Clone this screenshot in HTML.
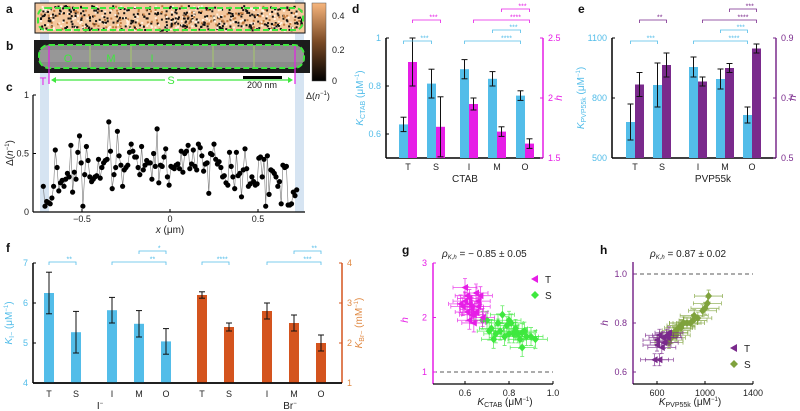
<!DOCTYPE html>
<html><head><meta charset="utf-8"><style>
html,body{margin:0;padding:0;background:#fff;}
svg{display:block;font-family:"Liberation Sans",sans-serif;}
</style></head><body>
<svg id="fig" width="800" height="411" viewBox="0 0 800 411" xmlns="http://www.w3.org/2000/svg">
<defs>
<linearGradient id="cbar" x1="0" y1="1" x2="0" y2="0"><stop offset="0" stop-color="#000"/><stop offset="0.5" stop-color="#7a4a25"/><stop offset="1" stop-color="#f7b57c"/></linearGradient>
</defs>
</svg>
<script>
// ---- panel c data ----
const cVals=[0.22,0.05,0.09,0.08,0.07,0.12,0.22,0.53,0.38,0.18,0.25,0.27,0.22,0.28,0.33,0.30,0.57,0.17,0.34,0.28,0.51,0.65,0.42,0.05,0.32,0.56,0.44,0.30,0.26,0.28,0.30,0.31,0.45,0.29,0.38,0.42,0.44,0.45,0.77,0.52,0.20,0.32,0.38,0.69,0.48,0.40,0.22,0.36,0.38,0.40,0.51,0.58,0.52,0.47,0.47,0.38,0.32,0.56,0.36,0.40,0.44,0.42,0.42,0.28,0.50,0.39,0.71,0.25,0.40,0.39,0.47,0.54,0.30,0.23,0.39,0.38,0.37,0.40,0.41,0.37,0.52,0.34,0.50,0.52,0.57,0.37,0.41,0.53,0.39,0.36,0.58,0.55,0.48,0.35,0.41,0.42,0.16,0.50,0.49,0.58,0.45,0.41,0.43,0.38,0.30,0.31,0.25,0.23,0.51,0.39,0.30,0.20,0.51,0.31,0.33,0.13,0.36,0.54,0.37,0.22,0.24,0.30,0.26,0.23,0.24,0.46,0.47,0.30,0.45,0.05,0.48,0.15,0.36,0.35,0.33,0.30,0.22,0.26,0.07,0.40,0.38,0.39,0.06,0.06,0.07,0.17,0.14,0.19];
const cXStart=-0.72, cXEnd=0.72;
const cXTicks=[-0.5,0,0.5];
const cYTicks=[0,0.5,1];
// ---- panel d ----
const dCats=["T","S","I","M","O"];
const dK=[0.64,0.81,0.87,0.83,0.76];
const dKerr=[0.03,0.06,0.04,0.03,0.02];
const dH=[2.3,1.76,1.95,1.72,1.62];
const dHerr=[0.2,0.25,0.05,0.04,0.04];
const dLTicks=[0.6,0.8,1];
const dRTicks=[1.5,2,2.5];
// ---- panel e ----
const eCats=["T","S","I","M","O"];
const eK=[680,865,955,895,715];
const eKerr=[90,110,50,50,40];
const eH=[0.745,0.81,0.755,0.80,0.865];
const eHerr=[0.04,0.04,0.015,0.015,0.015];
const eLTicks=[500,800,1100];
const eRTicks=[0.5,0.7,0.9];
// ---- panel f ----
const fCats=["T","S","I","M","O","T","S","I","M","O"];
const fI=[6.25,5.27,5.82,5.48,5.04];
const fIerr=[0.52,0.52,0.32,0.33,0.32];
const fBr=[3.2,2.4,2.8,2.5,2.0];
const fBrerr=[0.08,0.1,0.2,0.2,0.2];
const fLTicks=[4,5,6,7];
const fRTicks=[1,2,3,4];
// ---- panel g ----
const gTK=[0.60,0.58,0.62,0.63,0.65,0.61,0.64,0.66,0.59,0.62,0.67,0.63,0.60,0.65,0.68,0.62,0.64,0.61,0.66,0.63];
const gTH=[2.55,2.25,2.35,2.20,2.45,2.10,2.05,2.30,2.20,1.95,2.40,2.15,2.30,2.10,2.00,2.25,1.90,2.40,2.20,2.05];
const gSK=[0.70,0.72,0.75,0.77,0.74,0.80,0.81,0.78,0.83,0.85,0.82,0.87,0.88,0.92,0.86,0.84,0.79,0.73,0.76,0.90,0.83,0.71,0.68,0.80,0.86];
const gSH=[1.95,1.80,1.90,2.05,1.70,1.95,1.90,1.65,1.75,1.60,1.70,1.75,1.65,1.60,1.45,1.70,1.85,1.60,1.75,1.65,1.80,1.75,1.95,1.70,1.72];
const gXTicks=[0.6,0.8,1.0];
const gYTicks=[1,2,3];
// ---- panel h ----
const hTK=[580,620,640,600,650,680,700,620,660,600,690];
const hTH=[0.65,0.65,0.70,0.71,0.74,0.75,0.76,0.75,0.72,0.73,0.74];
const hSK=[700,720,740,760,780,800,820,850,900,940,980,1000,1020,1030,700,760,820,880,740,800,910];
const hSH=[0.72,0.74,0.76,0.77,0.78,0.78,0.80,0.80,0.81,0.82,0.85,0.86,0.88,0.91,0.73,0.75,0.80,0.80,0.76,0.79,0.83];
const hXTicks=[600,1000,1400];
const hYTicks=[0.6,0.8,1.0];

const NS="http://www.w3.org/2000/svg";
const svg=document.getElementById('fig');
function mk(tag,a,name,parent){
  const el=document.createElementNS(NS,tag);
  for(const k in a) el.setAttribute(k,a[k]);
  
  
  (parent||svg).appendChild(el);
  return el;
}
function tx(x,y,s,a,name){
  const o=Object.assign({x:x,y:y,'font-size':9,fill:'#222'},a||{});
  const el=mk('text',o,name);
  el.innerHTML=s;
  return el;
}
function lin(a,b,c,d){return v=>c+(v-a)*(d-c)/(b-a);}

const CYAN="#53bde9",MAG="#e61ee6",PUR="#7a2a8c",ORG="#d4541e",ORGT="#e08a44",GRN="#3ee83e",OLV="#7fa23c";

// panel letters
[["a",6,13],["b",6,50],["c",6,91],["d",352,13],["e",578,13],["f",6,252],["g",402,254],["h",600,254]].forEach(p=>{
  tx(p[1],p[2],p[0],{'font-size':12,'font-weight':'bold',fill:'#111'},'panel-label-'+p[0]);
});

// blue bands
mk('rect',{x:40,y:0,width:9,height:212,fill:'#d6e4f2'},'tip-band-left');
mk('rect',{x:295,y:0,width:9,height:212,fill:'#d6e4f2'},'tip-band-right');

// panel a image
mk('rect',{x:35,y:3,width:270,height:30,fill:'#f4c79d',stroke:'#111','stroke-width':1},'panel-a-image');
let seed=7;function rnd(){seed=(seed*16807)%2147483647;return seed/2147483647;}
for(let i=0;i<700;i++){
  const x=40+rnd()*262,y=5+rnd()*25;
  const c=rnd()<0.5?'#111':(rnd()<0.5?'#c07a3f':'#fff1e0');
  mk('rect',{x:x.toFixed(1),y:y.toFixed(1),width:2,height:2,fill:c},'noise-pixel');
}
mk('rect',{x:38,y:8,width:265,height:22,rx:8,fill:'none',stroke:'#3ee83e','stroke-width':2,'stroke-dasharray':'6 3'},'rod-outline-a');

// panel b
mk('rect',{x:34,y:40,width:276,height:33,fill:'#1c1c1c'},'panel-b-image');
mk('rect',{x:39,y:45,width:265,height:23,rx:10,fill:'#8a8a8a'},'rod-body');
mk('rect',{x:39,y:50,width:265,height:12,fill:'#a0a0a0',opacity:0.6},'rod-highlight');
mk('rect',{x:39,y:45,width:265,height:23,rx:10,fill:'none',stroke:'#3ee83e','stroke-width':2,'stroke-dasharray':'6 3'},'rod-outline-b');
[90,131,213,254].forEach(x=>mk('line',{x1:x,y1:46,x2:x,y2:67,stroke:'#a6c96a','stroke-width':1},'segment-divider'));
[49,295].forEach(x=>mk('line',{x1:x,y1:46,x2:x,y2:84,stroke:MAG,'stroke-width':1.2},'tip-boundary'));
[["O",68],["M",111],["I",152]].forEach(p=>tx(p[1],62,p[0],{'font-size':11,fill:'#3ee83e','text-anchor':'middle'},'segment-label-'+p[0]));
tx(43,85,"T",{'font-size':11,fill:MAG,'text-anchor':'middle'},'tip-label');
mk('line',{x1:53,y1:80,x2:291,y2:80,stroke:'#3ee83e','stroke-width':1.2},'side-arrow');
mk('path',{d:'M51,80 l5,-3 v6z M293,80 l-5,-3 v6z',fill:'#3ee83e'},'side-arrow-heads');
mk('rect',{x:165,y:74,width:12,height:11,fill:'#fff'},'side-label-bg');
tx(171,84,"S",{'font-size':11,fill:'#3ee83e','text-anchor':'middle'},'side-label');
mk('rect',{x:243,y:76,width:39,height:3,fill:'#000'},'scale-bar');
tx(262,88,"200 nm",{'font-size':9,'text-anchor':'middle'},'scale-bar-label');

// colorbar
mk('rect',{x:312,y:3,width:14,height:78,fill:'url(#cbar)',stroke:'#555','stroke-width':0.5},'colorbar');
[[0.4,19],[0.2,53],[0,84]].forEach(p=>tx(332,p[1],String(p[0]),{'font-size':9},'colorbar-tick'));
tx(306,99,"Δ(<tspan font-style='italic'>n</tspan><tspan font-size='6' dy='-4'>−1</tspan><tspan dy='4'>)</tspan>",{'font-size':9},'colorbar-title');

// ---- panel c ----
(function(){
  const X=lin(-0.5,0.5,82,258), Y=lin(0,1,212,95);
  mk('line',{x1:33,y1:95,x2:33,y2:212,stroke:'#000','stroke-width':1.2},'c-y-axis');
  mk('line',{x1:33,y1:212,x2:305,y2:212,stroke:'#000','stroke-width':1.2},'c-x-axis');
  cYTicks.forEach(v=>{mk('line',{x1:33,y1:Y(v),x2:36,y2:Y(v),stroke:'#000'},'c-y-tick');tx(29,Y(v)+3,String(v),{'text-anchor':'end'},'c-y-tick-label');});
  cXTicks.forEach(v=>{mk('line',{x1:X(v),y1:212,x2:X(v),y2:209,stroke:'#000'},'c-x-tick');tx(X(v),222,v<0?'−'+(-v):String(v),{'text-anchor':'middle'},'c-x-tick-label');});
  tx(170,233,"<tspan font-style='italic'>x</tspan> (μm)",{'font-size':10,'text-anchor':'middle'},'c-x-axis-title');
  const yl=tx(0,0,"Δ(<tspan font-style='italic'>n</tspan><tspan font-size='6' dy='-4'>−1</tspan><tspan dy='4'>)</tspan>",{'font-size':10,'text-anchor':'middle',transform:'translate(13,153) rotate(-90)'},'c-y-axis-title');
  const n=cVals.length; const pts=cVals.map((v,i)=>[X(cXStart+i*(cXEnd-cXStart)/(n-1)),Y(v)]);
  mk('polyline',{points:pts.map(p=>p[0].toFixed(1)+','+p[1].toFixed(1)).join(' '),fill:'none',stroke:'#777','stroke-width':0.6},'c-line');
  pts.forEach(p=>mk('circle',{cx:p[0].toFixed(1),cy:p[1].toFixed(1),r:2.6,fill:'#000'},'c-point'));
})();

function errbar(x,y1,y2,name){
  mk('line',{x1:x,y1:y1,x2:x,y2:y2,stroke:'#111','stroke-width':1},name);
  mk('line',{x1:x-3,y1:y1,x2:x+3,y2:y1,stroke:'#111','stroke-width':1},name+'-cap');
  mk('line',{x1:x-3,y1:y2,x2:x+3,y2:y2,stroke:'#111','stroke-width':1},name+'-cap');
}
function bracket(x1,x2,y,stars,col){
  mk('path',{d:`M${x1},${y+3}V${y}H${x2}V${y+3}`,fill:'none',stroke:col,'stroke-width':0.8},'significance-bracket');
  tx((x1+x2)/2+(x2-x1)*0.25,y-0.5,stars,{'font-size':7,fill:col,'text-anchor':'middle'},'significance-stars');
}
function dualPanel(o){
  const YL=lin(o.lmin,o.lmax,o.bot,o.top), YR=lin(o.rmin,o.rmax,o.bot,o.top);
  mk('line',{x1:o.L,y1:o.top,x2:o.L,y2:o.bot,stroke:'#000','stroke-width':1.5},o.p+'-left-axis');
  mk('line',{x1:o.R,y1:o.top,x2:o.R,y2:o.bot,stroke:o.rc,'stroke-width':1.5},o.p+'-right-axis');
  mk('line',{x1:o.L,y1:o.bot,x2:o.R,y2:o.bot,stroke:'#000','stroke-width':1.5},o.p+'-x-axis');
  o.lt.forEach(v=>{mk('line',{x1:o.L,y1:YL(v),x2:o.L+3,y2:YL(v),stroke:'#000'},o.p+'-left-tick');tx(o.L-5,YL(v)+3,String(v),{'text-anchor':'end',fill:o.lc},o.p+'-left-tick-label');});
  o.rt.forEach(v=>{mk('line',{x1:o.R,y1:YR(v),x2:o.R-3,y2:YR(v),stroke:o.rc},o.p+'-right-tick');tx(o.R+5,YR(v)+3,String(v),{fill:o.rtc||o.rc},o.p+'-right-tick-label');});
  return {YL,YR};
}

// ---- panel d ----
(function(){
  const o={p:'d',L:386,R:543,top:38,bot:158,lmin:0.5,lmax:1,rmin:1.5,rmax:2.5,lt:dLTicks,rt:dRTicks,lc:CYAN,rc:MAG};
  const {YL,YR}=dualPanel(o);
  const xs=dCats.map((c,i)=>408+i*28+(i>=2?5:0));
  dCats.forEach((c,i)=>{
    const x=xs[i];
    mk('rect',{x:x-9,y:YL(dK[i]),width:9,height:158-YL(dK[i]),fill:CYAN},'d-bar-k-'+c);
    mk('rect',{x:x,y:YR(dH[i]),width:9,height:158-YR(dH[i]),fill:MAG},'d-bar-h-'+c);
    errbar(x-4.5,YL(dK[i]+dKerr[i]),YL(dK[i]-dKerr[i]),'d-err-k');
    errbar(x+4.5,YR(dH[i]+dHerr[i]),YR(dH[i]-dHerr[i]),'d-err-h');
    tx(x,170,c,{'text-anchor':'middle'},'d-category-label');
  });
  tx(465,182,"CTAB",{'font-size':10,'text-anchor':'middle'},'d-group-label');
  tx(0,0,"<tspan font-style='italic'>K</tspan><tspan font-size='7' dy='2'>CTAB</tspan><tspan dy='-2'> (μM</tspan><tspan font-size='6' dy='-4'>−1</tspan><tspan dy='4'>)</tspan>",{'font-size':10,fill:CYAN,'text-anchor':'middle',transform:'translate(363,98) rotate(-90)'},'d-left-axis-title');
  tx(0,0,"h",{'font-size':10,'font-style':'italic',fill:MAG,'text-anchor':'middle',transform:'translate(562,98) rotate(-90)'},'d-right-axis-title');
  bracket(xs[0]-4.5,xs[1]-4.5,41,'***',CYAN);
  bracket(xs[2]-4.5,xs[4]-4.5,41,'****',CYAN);
  bracket(xs[3]-4.5,xs[4]-4.5,30,'***',CYAN);
  bracket(xs[0]+4.5,xs[1]+4.5,20,'***',MAG);
  bracket(xs[2]+4.5,xs[4]+4.5,20,'****',MAG);
  bracket(xs[3]+4.5,xs[4]+4.5,9,'***',MAG);
})();

// ---- panel e ----
(function(){
  const o={p:'e',L:612,R:776,top:38,bot:158,lmin:500,lmax:1100,rmin:0.5,rmax:0.9,lt:eLTicks,rt:eRTicks,lc:CYAN,rc:PUR};
  const {YL,YR}=dualPanel(o);
  const xs=eCats.map((c,i)=>635+i*27+(i>=2?9:0));
  eCats.forEach((c,i)=>{
    const x=xs[i];
    mk('rect',{x:x-9,y:YL(eK[i]),width:9,height:158-YL(eK[i]),fill:CYAN},'e-bar-k-'+c);
    mk('rect',{x:x,y:YR(eH[i]),width:9,height:158-YR(eH[i]),fill:PUR},'e-bar-h-'+c);
    errbar(x-4.5,YL(eK[i]+eKerr[i]),YL(eK[i]-eKerr[i]),'e-err-k');
    errbar(x+4.5,YR(eH[i]+eHerr[i]),YR(eH[i]-eHerr[i]),'e-err-h');
    tx(x,170,c,{'text-anchor':'middle'},'e-category-label');
  });
  tx(713,182,"PVP55k",{'font-size':10,'text-anchor':'middle'},'e-group-label');
  tx(0,0,"<tspan font-style='italic'>K</tspan><tspan font-size='7' dy='2'>PVP55k</tspan><tspan dy='-2'> (μM</tspan><tspan font-size='6' dy='-4'>−1</tspan><tspan dy='4'>)</tspan>",{'font-size':10,fill:CYAN,'text-anchor':'middle',transform:'translate(584,98) rotate(-90)'},'e-left-axis-title');
  tx(0,0,"h",{'font-size':10,'font-style':'italic',fill:PUR,'text-anchor':'middle',transform:'translate(796,98) rotate(-90)'},'e-right-axis-title');
  bracket(xs[0]-4.5,xs[1]-4.5,41,'***',CYAN);
  bracket(xs[2]-4.5,xs[4]-4.5,41,'****',CYAN);
  bracket(xs[3]-4.5,xs[4]-4.5,30,'***',CYAN);
  bracket(xs[0]+4.5,xs[1]+4.5,20,'**',PUR);
  bracket(xs[2]+4.5,xs[4]+4.5,20,'****',PUR);
  bracket(xs[3]+4.5,xs[4]+4.5,9,'***',PUR);
})();

// ---- panel f ----
(function(){
  const o={p:'f',L:33,R:342,top:263,bot:383,lmin:4,lmax:7,rmin:1,rmax:4,lt:fLTicks,rt:fRTicks,lc:CYAN,rc:ORG,rtc:ORGT};
  const {YL,YR}=dualPanel(o);
  const xs=fCats.map((c,i)=>49+i*27+(i>=2?9:0)+(i>=5?9:0)+(i>=7?11:0));
  fCats.forEach((c,i)=>{
    const x=xs[i];
    if(i<5){
      mk('rect',{x:x-5,y:YL(fI[i]),width:10,height:383-YL(fI[i]),fill:CYAN},'f-bar-iodide-'+c);
      errbar(x,YL(fI[i]+fIerr[i]),YL(fI[i]-fIerr[i]),'f-err-iodide');
    } else {
      const j=i-5;
      mk('rect',{x:x-5,y:YR(fBr[j]),width:10,height:383-YR(fBr[j]),fill:ORG},'f-bar-bromide-'+c);
      errbar(x,YR(fBr[j]+fBrerr[j]),YR(fBr[j]-fBrerr[j]),'f-err-bromide');
    }
    tx(x,397,c,{'text-anchor':'middle'},'f-category-label');
  });
  mk('line',{x1:33,y1:383,x2:342,y2:383,stroke:'#000','stroke-width':1.5},'f-x-axis-top');
  tx(100,409,"I<tspan font-size='6' dy='-4'>−</tspan>",{'font-size':10,'text-anchor':'middle'},'f-group-label-iodide');
  tx(290,409,"Br<tspan font-size='6' dy='-4'>−</tspan>",{'font-size':10,'text-anchor':'middle'},'f-group-label-bromide');
  tx(0,0,"<tspan font-style='italic'>K</tspan><tspan font-size='7' dy='2'>I−</tspan><tspan dy='-2'> (μM</tspan><tspan font-size='6' dy='-4'>−1</tspan><tspan dy='4'>)</tspan>",{'font-size':10,fill:CYAN,'text-anchor':'middle',transform:'translate(12,323) rotate(-90)'},'f-left-axis-title');
  tx(0,0,"<tspan font-style='italic'>K</tspan><tspan font-size='7' dy='2'>Br−</tspan><tspan dy='-2'> (mM</tspan><tspan font-size='6' dy='-4'>−1</tspan><tspan dy='4'>)</tspan>",{'font-size':10,fill:ORGT,'text-anchor':'middle',transform:'translate(362,323) rotate(-90)'},'f-right-axis-title');
  bracket(xs[0],xs[1],262,'**',CYAN);
  bracket(xs[2],xs[4],262,'**',CYAN);
  bracket(xs[3],xs[4],251,'*',CYAN);
  bracket(xs[5],xs[6],262,'****',CYAN);
  bracket(xs[7],xs[9],262,'***',CYAN);
  bracket(xs[8],xs[9],251,'**',CYAN);
})();

// scatter panel helper
function scatter(o){
  const X=lin(o.x0v,o.x1v,o.x0p,o.x1p), Y=lin(o.y0v,o.y1v,o.y0p,o.y1p);
  mk('line',{x1:o.L,y1:o.top,x2:o.L,y2:o.bot,stroke:o.ac,'stroke-width':1.5},o.p+'-y-axis');
  mk('line',{x1:o.L,y1:o.bot,x2:o.R,y2:o.bot,stroke:'#000','stroke-width':1.2},o.p+'-x-axis');
  mk('line',{x1:o.L,y1:Y(o.dash),x2:o.R,y2:Y(o.dash),stroke:'#222','stroke-dasharray':'4 3','stroke-width':0.8},o.p+'-reference-line');
  o.yt.forEach(v=>{mk('line',{x1:o.L,y1:Y(v),x2:o.L+3,y2:Y(v),stroke:o.ac},o.p+'-y-tick');tx(o.L-6,Y(v)+3,String(o.yfmt?v.toFixed(1):v),{'text-anchor':'end',fill:o.ac},o.p+'-y-tick-label');});
  o.xt.forEach(v=>{mk('line',{x1:X(v),y1:o.bot,x2:X(v),y2:o.bot-3,stroke:'#000'},o.p+'-x-tick');tx(X(v),o.bot+12,o.xfmt?v.toFixed(1):String(v),{'text-anchor':'middle'},o.p+'-x-tick-label');});
  function pts(K,H,col,shape,tag){
    K.forEach((k,i)=>{
      const x=X(k),y=Y(H[i]),ex=o.ex,ey=o.ey;
      mk('path',{d:`M${x-ex},${y}H${x+ex}M${x-ex},${y-2}v4M${x+ex},${y-2}v4M${x},${y-ey}V${y+ey}M${x-2},${y-ey}h4M${x-2},${y+ey}h4`,stroke:col,'stroke-width':0.8,fill:'none',opacity:0.8},o.p+'-error-bars-'+tag);
      if(shape==='tri') mk('path',{d:`M${x-3.5},${y}L${x+3},${y-3.5}L${x+3},${y+3.5}Z`,fill:col},o.p+'-point-'+tag);
      else mk('path',{d:`M${x},${y-4}L${x+3.5},${y}L${x},${y+4}L${x-3.5},${y}Z`,fill:col},o.p+'-point-'+tag);
    });
  }
  pts(o.sK,o.sH,o.sc,'dia','S');
  pts(o.tK,o.tH,o.tc,'tri','T');
  mk('path',{d:`M${o.lx-4},${o.ly}L${o.lx+3},${o.ly-4}L${o.lx+3},${o.ly+4}Z`,fill:o.tc},o.p+'-legend-marker-T');
  tx(o.lx+10,o.ly+4,"T",{'font-size':10},o.p+'-legend-label-T');
  mk('path',{d:`M${o.lx},${o.ly+12}L${o.lx+4},${o.ly+16}L${o.lx},${o.ly+20}L${o.lx-4},${o.ly+16}Z`,fill:o.sc},o.p+'-legend-marker-S');
  tx(o.lx+10,o.ly+20,"S",{'font-size':10},o.p+'-legend-label-S');
}
scatter({p:'g',L:433,R:553,top:263,bot:384,x0v:0.6,x1v:1.0,x0p:465,x1p:553,y0v:1,y1v:3,y0p:372,y1p:263,dash:1,ac:MAG,
  yt:gYTicks,xt:gXTicks,xfmt:true,sK:gSK,sH:gSH,tK:gTK,tH:gTH,sc:GRN,tc:MAG,ex:12,ey:9,lx:535,ly:279});
tx(442,257,"<tspan font-style='italic'>ρ</tspan><tspan font-size='6' dy='2' font-style='italic'>K,h</tspan><tspan dy='-2'> = − 0.85 ± 0.05</tspan>",{'font-size':10},'g-title');
tx(0,0,"h",{'font-size':10,'font-style':'italic',fill:MAG,'text-anchor':'middle',transform:'translate(408,320) rotate(-90)'},'g-y-axis-title');
tx(505,405,"<tspan font-style='italic'>K</tspan><tspan font-size='7' dy='2'>CTAB</tspan><tspan dy='-2'> (μM</tspan><tspan font-size='6' dy='-4'>−1</tspan><tspan dy='4'>)</tspan>",{'font-size':10,'text-anchor':'middle'},'g-x-axis-title');

scatter({p:'h',L:633,R:753,top:262,bot:384,x0v:600,x1v:1400,x0p:657,x1p:753,y0v:0.6,y1v:1.0,y0p:372,y1p:274,dash:1.0,ac:PUR,
  yt:hYTicks,yfmt:true,xt:hXTicks,sK:hSK,sH:hSH,tK:hTK,tH:hTH,sc:OLV,tc:PUR,ex:14,ey:6,lx:734,ly:348});
tx(650,257,"<tspan font-style='italic'>ρ</tspan><tspan font-size='6' dy='2' font-style='italic'>K,h</tspan><tspan dy='-2'> = 0.87 ± 0.02</tspan>",{'font-size':10},'h-title');
tx(0,0,"h",{'font-size':10,'font-style':'italic',fill:PUR,'text-anchor':'middle',transform:'translate(608,323) rotate(-90)'},'h-y-axis-title');
tx(690,405,"<tspan font-style='italic'>K</tspan><tspan font-size='7' dy='2'>PVP55k</tspan><tspan dy='-2'> (μM</tspan><tspan font-size='6' dy='-4'>−1</tspan><tspan dy='4'>)</tspan>",{'font-size':10,'text-anchor':'middle'},'h-x-axis-title');
</script>
</body></html>
